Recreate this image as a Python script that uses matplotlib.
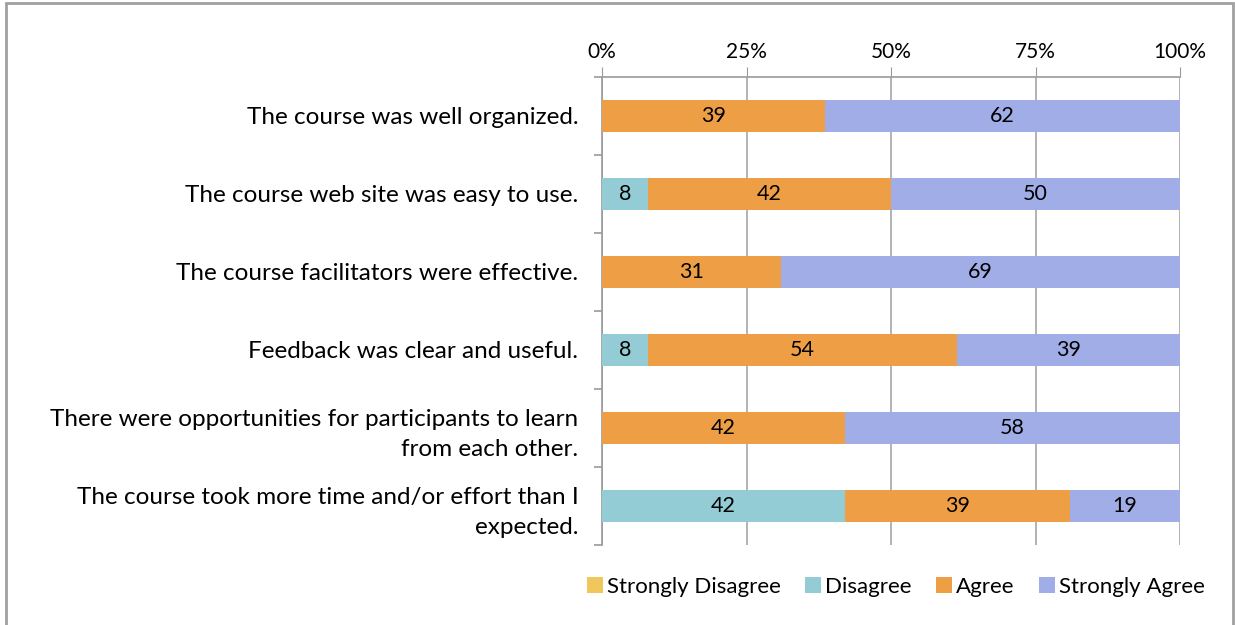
import matplotlib.pyplot as plt
import numpy as np
from matplotlib.patches import Rectangle

questions = [
    "The course was well organized.",
    "The course web site was easy to use.",
    "The course facilitators were effective.",
    "Feedback was clear and useful.",
    "There were opportunities for participants to learn\nfrom each other.",
    "The course took more time and/or effort than I\nexpected.",
]
series_names = ["Strongly Disagree", "Disagree", "Agree", "Strongly Agree"]
strongly_disagree = [0, 0, 0, 0, 0, 0]
disagree = [0, 8, 0, 8, 0, 42]
agree = [39, 42, 31, 54, 42, 39]
strongly_agree = [62, 50, 69, 39, 58, 19]
tick_labels = ["0%", "25%", "50%", "75%", "100%"]

colors = ["#EFC75A", "#93CCD4", "#EE9F45", "#A1ADE6"]

plt.rcParams['font.family'] = ['Lato', 'DejaVu Sans']

data = np.array([strongly_disagree, disagree, agree, strongly_agree], dtype=float)
totals = data.sum(axis=0)
frac = data / totals

fig = plt.figure(figsize=(12.35, 6.25), dpi=100)
ax = fig.add_axes([602 / 1235, 1 - 545 / 625, 578 / 1235, 468 / 625])

y = np.arange(len(questions))
left = np.zeros(len(questions))
for i, name in enumerate(series_names):
    bars = ax.barh(y, frac[i], left=left, height=0.41, color=colors[i],
                   label=name, zorder=3)
    for j, b in enumerate(bars):
        if data[i, j] > 0:
            ax.text(left[j] + frac[i, j] / 2, y[j], f"{int(data[i, j])}",
                    ha='center', va='center', fontsize=15.5, color='black', zorder=4)
    left += frac[i]

ax.set_xlim(0, 1)
ax.set_ylim(len(questions) - 0.5, -0.5)
ax.xaxis.tick_top()
ax.set_xticks([0, 0.25, 0.5, 0.75, 1.0])
ax.set_xticklabels(tick_labels, fontsize=15)
ax.tick_params(axis='x', length=7, color='#9a9a9a', pad=4)
ax.grid(axis='x', color='#a6a6a6', linewidth=1.2, zorder=0)

ax.set_yticks(y)
ax.set_yticklabels(questions, fontsize=17.5, linespacing=1.55)
ax.tick_params(axis='y', length=0, pad=17)
ax.set_yticks(np.arange(-0.5, len(questions) + 0.5, 1), minor=True)
ax.tick_params(axis='y', which='minor', length=6, color='#9a9a9a', width=1.2)
for lbl in ax.get_yticklabels():
    lbl.set_horizontalalignment('right')

for s in ['right', 'bottom']:
    ax.spines[s].set_visible(False)
for s in ['left', 'top']:
    ax.spines[s].set_color('#9a9a9a')
    ax.spines[s].set_linewidth(1.2)

fig.legend(loc='center', bbox_to_anchor=(896 / 1235, 1 - 587 / 625), ncol=4,
           frameon=False, fontsize=16, handlelength=0.7, handleheight=0.7,
           handletextpad=0.2, columnspacing=1.1)

fig.patches.append(Rectangle((6 / 1235, -0.05), 1227 / 1235, 1.05 - 3 / 625,
                             transform=fig.transFigure, fill=False,
                             edgecolor='#a0a0a0', linewidth=2))

fig.savefig("out.png", dpi=100)
